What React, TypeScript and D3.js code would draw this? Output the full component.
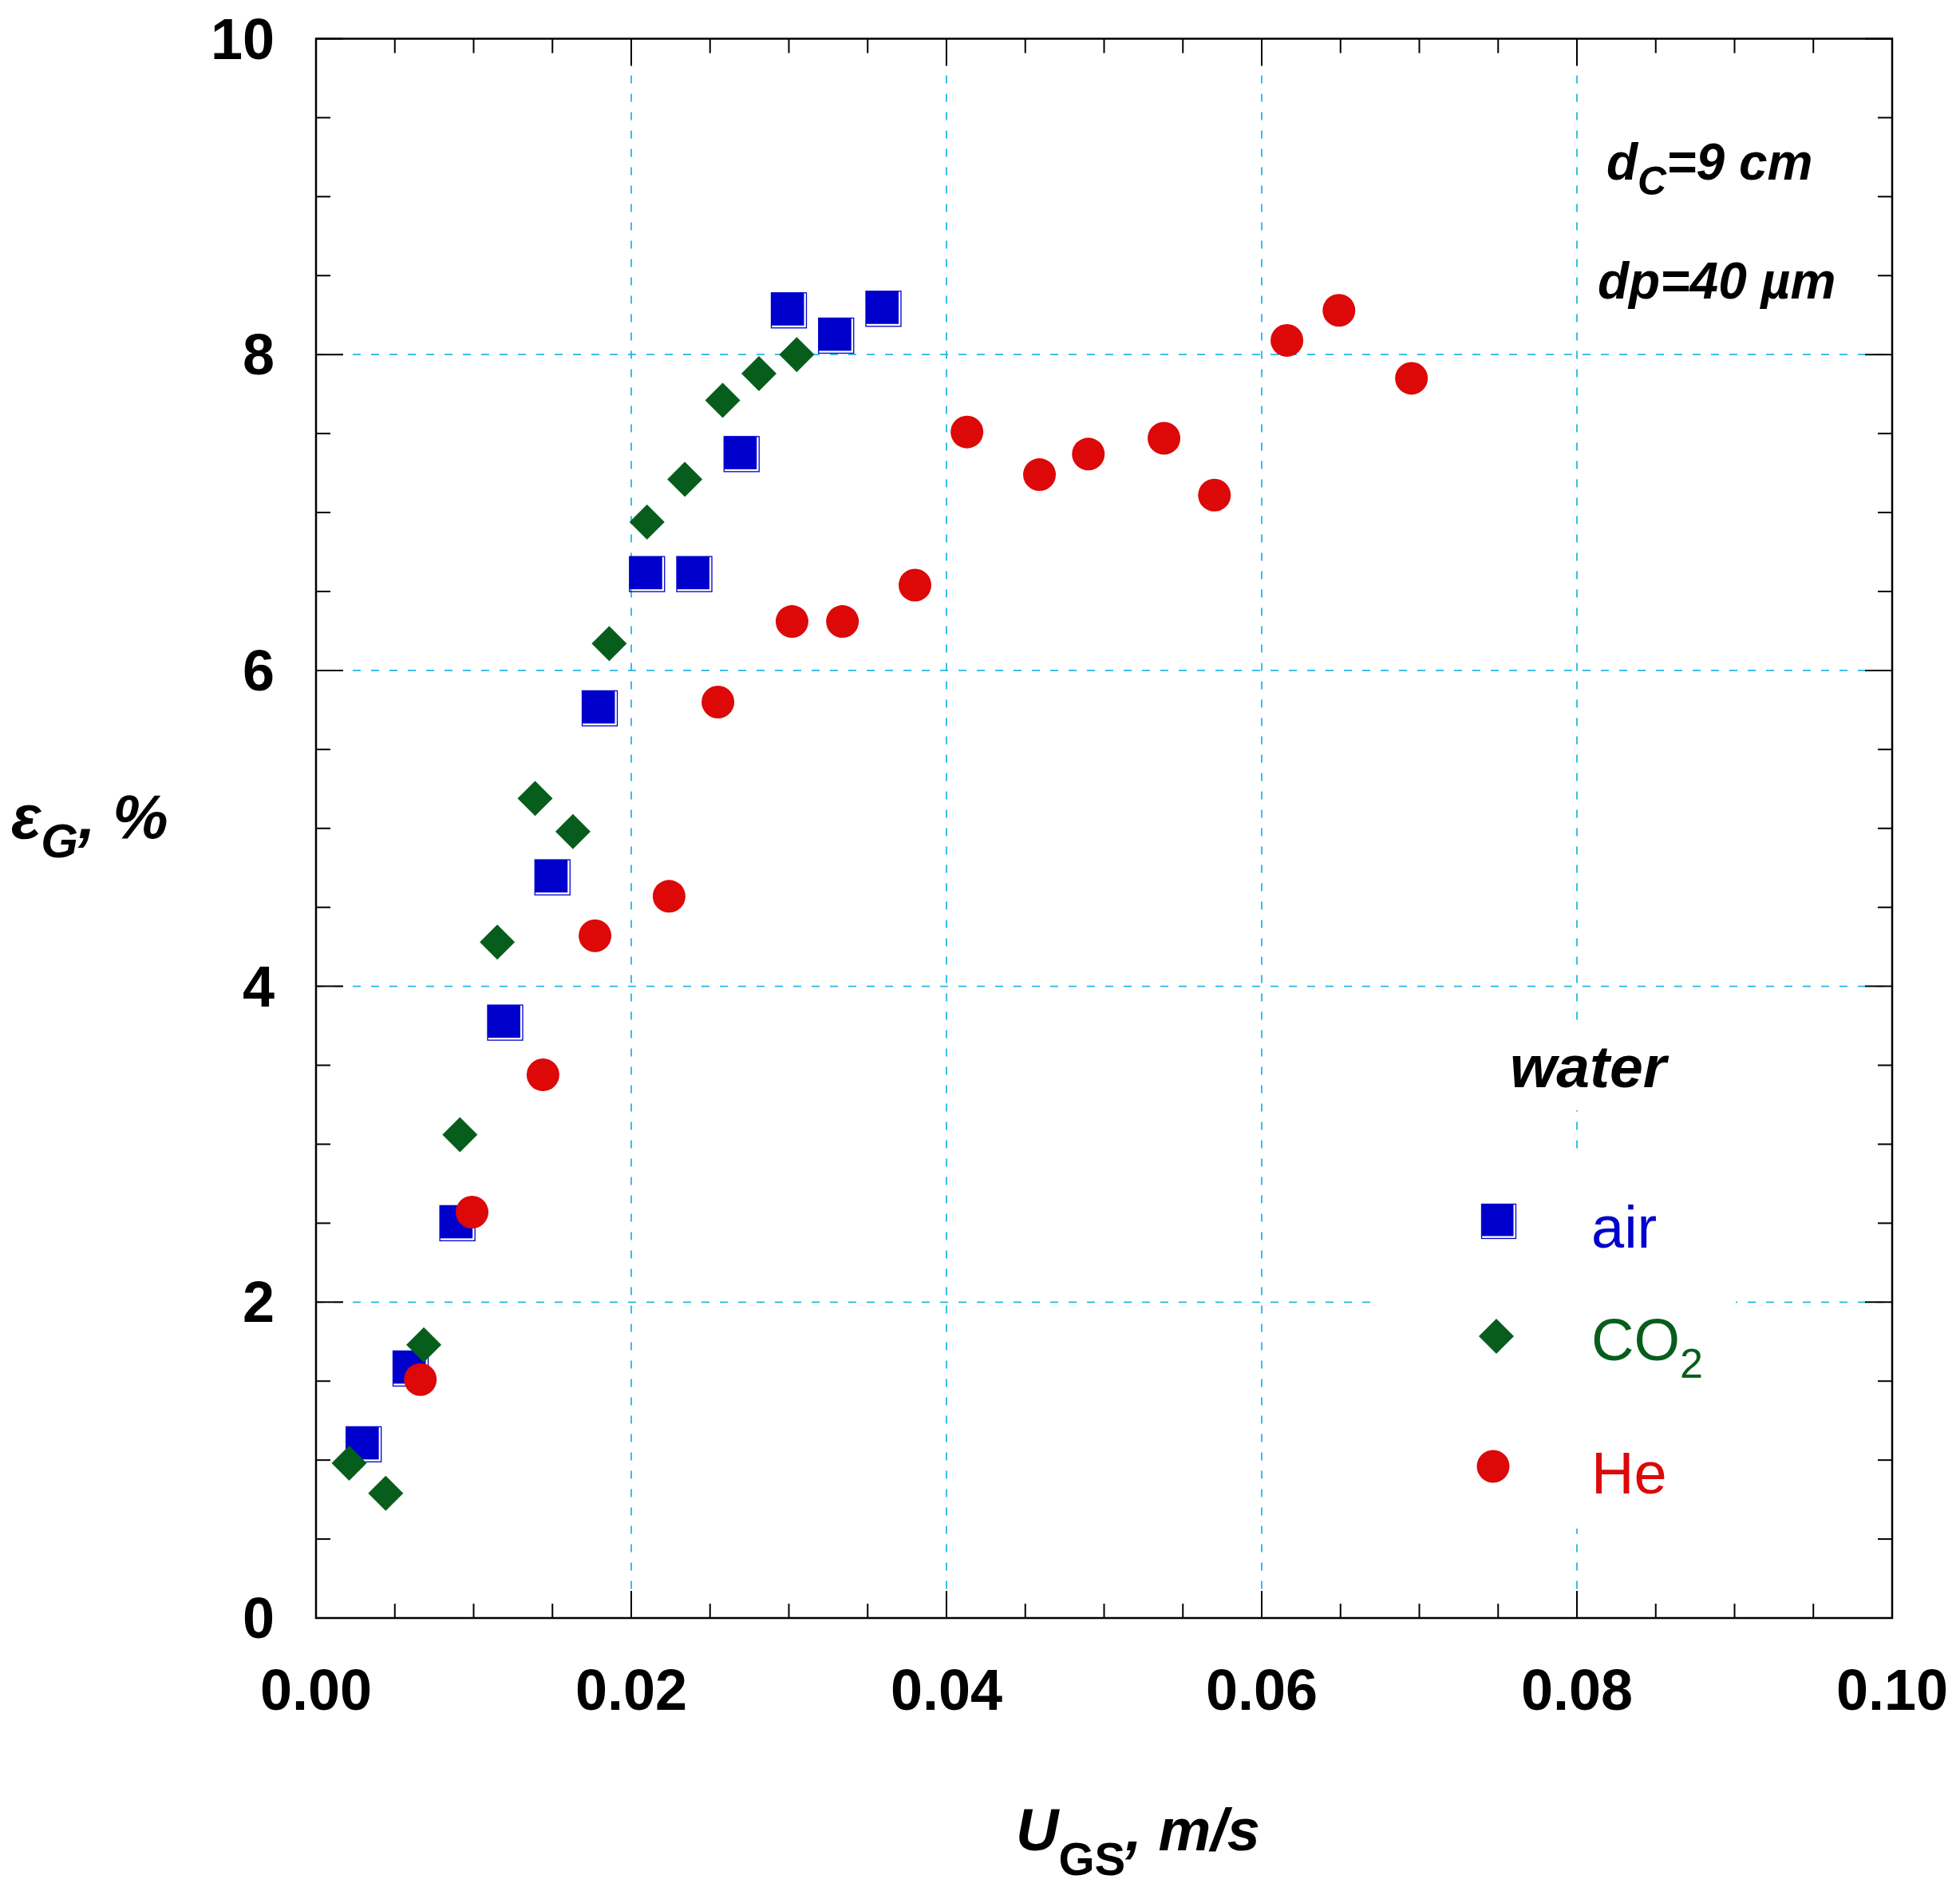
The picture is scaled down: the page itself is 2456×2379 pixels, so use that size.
import React from "react";
import * as d3 from "d3";

// ---- data ----
const airX = [0.00302, 0.00600, 0.00897, 0.0120, 0.0150, 0.0180, 0.0210, 0.0240, 0.0270, 0.0300, 0.0330, 0.0360];
const airY = [1.10, 1.58, 2.50, 3.77, 4.69, 5.76, 6.61, 6.61, 7.37, 8.28, 8.12, 8.29];

const co2X = [0.00210, 0.00442, 0.00684, 0.00913, 0.0115, 0.0139, 0.0163, 0.0186, 0.0210, 0.0234, 0.0258, 0.0281, 0.0305];
const co2Y = [0.98, 0.79, 1.73, 3.06, 4.28, 5.19, 4.98, 6.17, 6.94, 7.21, 7.71, 7.88, 8.00];

const heX = [0.00662, 0.00990, 0.0144, 0.0177, 0.0224, 0.0255, 0.0302, 0.0334, 0.0380, 0.0413, 0.0459, 0.0490, 0.0538, 0.0570, 0.0616, 0.0649, 0.0695];
const heY = [1.51, 2.57, 3.44, 4.32, 4.57, 5.80, 6.31, 6.31, 6.54, 7.51, 7.24, 7.37, 7.47, 7.11, 8.09, 8.28, 7.85];

const xMajorTicks = [0, 0.02, 0.04, 0.06, 0.08, 0.1];
const xTickLabels = ["0.00", "0.02", "0.04", "0.06", "0.08", "0.10"];
const yMajorTicks = [0, 2, 4, 6, 8, 10];
const yTickLabels = ["0", "2", "4", "6", "8", "10"];
const xMinorStep = 0.005;
const yMinorStep = 0.5;

const legendLabels = ["air", "CO", "He"];

// ---- style ----
const W = 2456;
const H = 2379;
const L = 396, R = 2371, T = 48.5, B = 2027;
const BLUE = "#0000cc";
const GREEN = "#075e1c";
const RED = "#dd0808";
const GRID = "#22b8e8";
const FONT = "'Liberation Sans', Arial, Helvetica, sans-serif";

const x = d3.scaleLinear().domain([0, 0.1]).range([L, R]);
const y = d3.scaleLinear().domain([0, 10]).range([B, T]);

const SQ = 44;
const DI = 44;
const CR = 20.5;

function Square({ cx, cy, s }: { cx: number; cy: number; s: number }) {
  return (
    <g>
      <rect x={cx - s / 2} y={cy - s / 2} width={s} height={s} fill="none" stroke={BLUE} strokeWidth={1.3} />
      <rect x={cx - s / 2} y={cy - s / 2} width={s - 3} height={s - 3} fill={BLUE} />
    </g>
  );
}

function Diamond({ cx, cy, s }: { cx: number; cy: number; s: number }) {
  const h = s / 2;
  return <path d={`M${cx},${cy - h}L${cx + h},${cy}L${cx},${cy + h}L${cx - h},${cy}Z`} fill={GREEN} />;
}

export default function App() {
  const xMinor = d3.range(0, 0.1 + 1e-9, xMinorStep);
  const yMinor = d3.range(0, 10 + 1e-9, yMinorStep);
  const isMajorX = (v: number) => xMajorTicks.some((m) => Math.abs(m - v) < 1e-9);
  const isMajorY = (v: number) => yMajorTicks.some((m) => Math.abs(m - v) < 1e-9);
  const MAJ = 34, MIN = 18;

  return (
    <svg
      width={W}
      height={H}
      viewBox={`0 0 ${W} ${H}`}
      style={{ position: "absolute", left: 0, top: 0, display: "block", background: "#fff" }}
      fontFamily={FONT}
    >
      <rect x={0} y={0} width={W} height={H} fill="#fff" />

      {/* grid */}
      <g stroke={GRID} strokeWidth={1.8} strokeDasharray="10 13">
        {xMajorTicks.filter((v) => v > 0 && v < 0.1).map((v) => (
          <line key={"gx" + v} x1={x(v)} x2={x(v)} y1={T} y2={B} />
        ))}
        {yMajorTicks.filter((v) => v > 0 && v < 10).map((v) => (
          <line key={"gy" + v} x1={L} x2={R} y1={y(v)} y2={y(v)} />
        ))}
      </g>

      {/* text masks */}
      <rect x={1880} y={1287} width={222} height={104} fill="#fff" />
      <rect x={1722} y={1443} width={453} height={472} fill="#fff" />

      {/* ticks */}
      <g stroke="#000" strokeWidth={2}>
        {xMinor.map((v, i) => {
          const len = isMajorX(v) ? MAJ : MIN;
          return (
            <g key={"tx" + i}>
              <line x1={x(v)} x2={x(v)} y1={B} y2={B - len} />
              <line x1={x(v)} x2={x(v)} y1={T} y2={T + len} />
            </g>
          );
        })}
        {yMinor.map((v, i) => {
          const len = isMajorY(v) ? MAJ : MIN;
          return (
            <g key={"ty" + i}>
              <line x1={L} x2={L + len} y1={y(v)} y2={y(v)} />
              <line x1={R} x2={R - len} y1={y(v)} y2={y(v)} />
            </g>
          );
        })}
      </g>
      <rect x={L} y={T} width={R - L} height={B - T} fill="none" stroke="#000" strokeWidth={2.5} />

      {/* tick labels */}
      <g fontSize={72} fontWeight="bold" fill="#000">
        {xMajorTicks.map((v, i) => (
          <text key={"xl" + i} x={x(v)} y={2142} textAnchor="middle">{xTickLabels[i]}</text>
        ))}
        {yMajorTicks.map((v, i) => (
          <text key={"yl" + i} x={344} y={y(v) + 25} textAnchor="end">{yTickLabels[i]}</text>
        ))}
      </g>

      {/* axis titles */}
      <text x={14} y={1050} fontSize={78} fontWeight="bold" fontStyle="italic" fill="#000">
        ε<tspan fontSize={60} dy={24}>G</tspan><tspan dy={-24}>, %</tspan>
      </text>
      <text x={1273} y={2318} fontSize={74} fontWeight="bold" fontStyle="italic" fill="#000">
        U<tspan fontSize={58} fontStyle="normal" dy={31}>GS</tspan><tspan dy={-31}>, m/s</tspan>
      </text>

      {/* annotations */}
      <text x={2013} y={225} fontSize={64} fontWeight="bold" fontStyle="italic" fill="#000">
        d<tspan fontSize={50} dy={19}>C</tspan><tspan dy={-19}>=9 cm</tspan>
      </text>
      <text x={2002} y={374} fontSize={64} fontWeight="bold" fontStyle="italic" fill="#000">dp=40 µm</text>
      <text x={1892} y={1362} fontSize={75} fontWeight="bold" fontStyle="italic" fill="#000">water</text>

      {/* legend */}
      <Square cx={1878} cy={1530} s={43} />
      <Diamond cx={1875} cy={1674} s={44} />
      <circle cx={1871} cy={1837} r={20.5} fill={RED} />
      <text x={1994} y={1563} fontSize={74} fill={BLUE}>{legendLabels[0]}</text>
      <text x={1994} y={1704} fontSize={74} fill={GREEN}>
        {legendLabels[1]}<tspan fontSize={52} dy={22}>2</tspan>
      </text>
      <text x={1994} y={1871} fontSize={74} fill={RED}>{legendLabels[2]}</text>

      {/* data */}
      <g>
        {airX.map((v, i) => (
          <Square key={"a" + i} cx={x(v)} cy={y(airY[i])} s={SQ} />
        ))}
      </g>
      <g>
        {co2X.map((v, i) => (
          <Diamond key={"c" + i} cx={x(v)} cy={y(co2Y[i])} s={DI} />
        ))}
      </g>
      <g>
        {heX.map((v, i) => (
          <circle key={"h" + i} cx={x(v)} cy={y(heY[i])} r={CR} fill={RED} />
        ))}
      </g>
    </svg>
  );
}
